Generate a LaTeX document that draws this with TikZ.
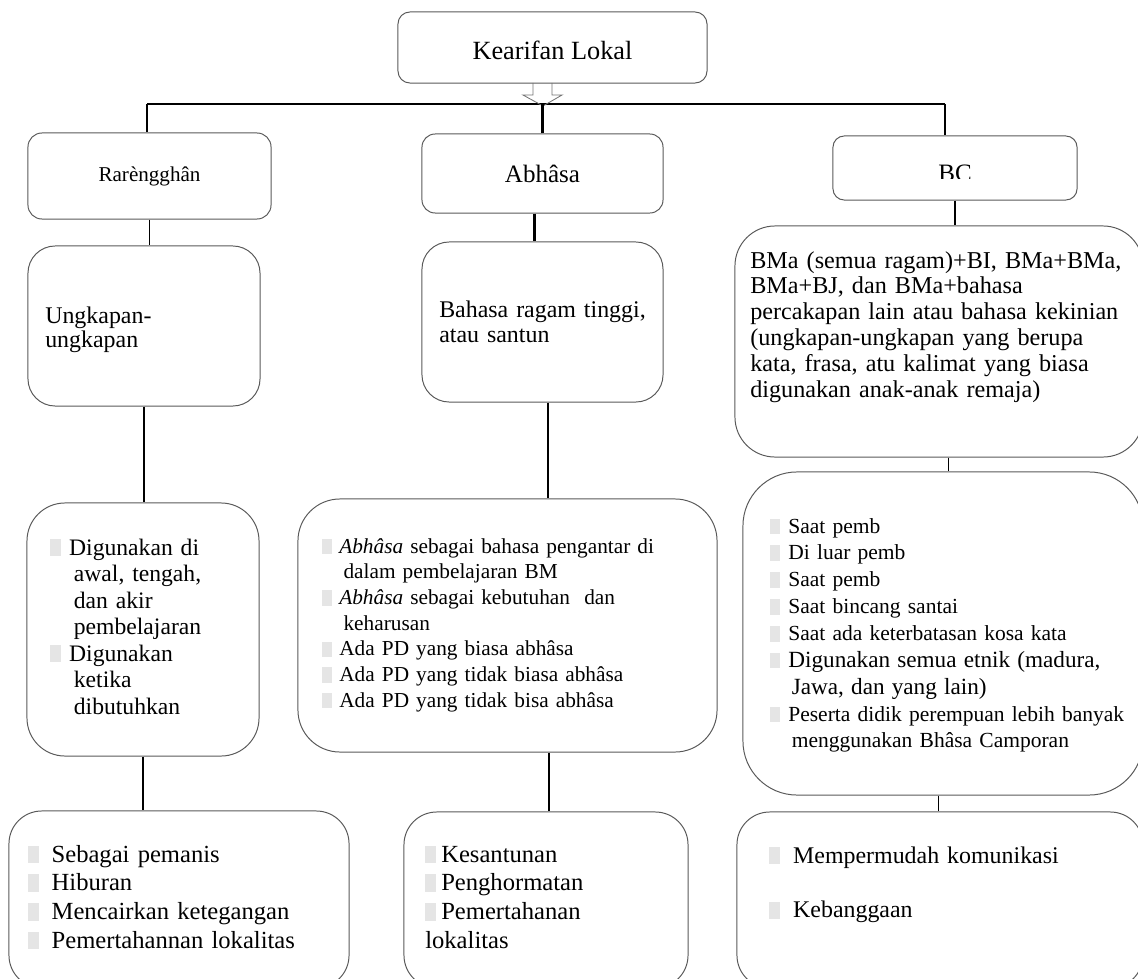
\documentclass[tikz,border=0pt]{standalone}
\usepackage{fontspec}
\setmainfont{Liberation Serif}

\definecolor{boxgray}{gray}{0.35}
\definecolor{bulgray}{gray}{0.9}
\newcommand{\bul}[1][0.8em]{\makebox[#1][l]{\textcolor{bulgray}{\rule[-0.05em]{0.45em}{0.72em}}}}
\newcommand{\itm}[2][0.8em]{\hangindent=1em\hangafter=1\bul[#1]#2\par}
\newcommand{\nl}{\hfil\break}

\tikzset{
  box/.style={draw=boxgray, line width=0.7pt, rounded corners=#1, inner sep=0pt},
  box/.default=0.3cm,
  txt/.style={anchor=base west, inner sep=0pt, align=left, text width=11cm},
  link/.style={draw, line width=1.4pt},
}

\begin{document}
\begin{tikzpicture}[x=0.025cm,y=-0.025cm]
\useasboundingbox (0,0) rectangle (1138,979);
\clip (0,0) rectangle (1138,979);

\node[box, minimum width=7.725cm, minimum height=1.775cm, text height=0.62cm, text depth=0cm, font=\fontsize{18.7}{22}\selectfont] (kl) at (552.5,47.5) {Kearifan Lokal};

\node[box=0.35cm, minimum width=6.075cm, minimum height=2.15cm, font=\fontsize{15}{18}\selectfont] (rar) at (149.5,176) {Rarèngghân};
\node[box=0.33cm, minimum width=6.025cm, minimum height=1.975cm, font=\fontsize{17.8}{21}\selectfont] (abh) at (542.5,173.5) {Abhâsa};
\node[box=0.28cm, minimum width=6.1cm, minimum height=1.6cm] (bc) at (955,168) {};

\node[box=0.68cm, minimum width=5.8cm, minimum height=4cm] (ungk) at (144,326) {};
\node[box=0.68cm, minimum width=6.025cm, minimum height=4cm] (ragam) at (542.5,322) {};
\node[box=1cm, minimum width=10.2cm, minimum height=5.775cm] (bma) at (939,341.5) {};

\node[box=0.95cm, minimum width=5.8cm, minimum height=6.325cm] (gunaR) at (143,629.5) {};
\node[box=1.05cm, minimum width=10.475cm, minimum height=6.325cm] (gunaA) at (507.5,625.5) {};
\node[box=1.35cm, minimum width=10cm, minimum height=8.075cm] (gunaB) at (943,633.5) {};

\node[box=0.82cm, minimum width=8.5cm, minimum height=4.425cm] (fungR) at (179,899.5) {};
\node[box=0.82cm, minimum width=7.1cm, minimum height=4.4cm] (fungA) at (546,900) {};
\node[box=0.82cm, minimum width=10.15cm, minimum height=4.4cm] (fungB) at (940,900) {};

\begin{scope}
\clip (833,136) rectangle (1077,178);
\node[anchor=base, inner sep=0pt, font=\fontsize{17.8}{21}\selectfont] (bct) at (955,181.5) {BC};
\end{scope}

\node[txt, font=\fontsize{17}{17.1}\selectfont] (ungkt) at (45,323) {Ungkapan-\\ungkapan};
\node[txt, font=\fontsize{17}{17.8}\selectfont] (ragamt) at (439,317) {Bahasa ragam tinggi,\\atau santun};
\node[txt, font=\fontsize{17.2}{18.35}\selectfont] (bmat) at (750,268) {BMa (semua ragam)+BI, BMa+BMa,\\BMa+BJ, dan BMa+bahasa\\percakapan lain atau bahasa kekinian\\(ungkapan-ungkapan yang berupa\\kata, frasa, atu kalimat yang biasa\\digunakan anak-anak remaja)};

\node[txt, font=\fontsize{16.8}{18.85}\selectfont] (gunaRt) at (50,555) {%
\itm{Digunakan di\nl awal, tengah,\nl dan akir\nl pembelajaran}%
\itm{Digunakan\nl ketika\nl dibutuhkan}};
\node[txt, font=\fontsize{15.15}{18.3}\selectfont] (gunaAt) at (322,553) {%
\itm{\textit{Abhâsa} sebagai bahasa pengantar di\nl dalam pembelajaran BM}%
\itm{\textit{Abhâsa} sebagai kebutuhan\ \ dan\nl keharusan}%
\itm{Ada PD yang biasa abhâsa}%
\itm{Ada PD yang tidak biasa abhâsa}%
\itm{Ada PD yang tidak bisa abhâsa}};
\node[txt, font=\fontsize{15.3}{19.1}\selectfont] (gunaBt) at (770,533) {%
\itm[0.84em]{Saat pemb}%
\itm[0.84em]{Di luar pemb}%
\itm[0.84em]{Saat pemb}%
\itm[0.84em]{Saat bincang santai}%
\itm[0.84em]{Saat ada keterbatasan kosa kata}%
\itm[0.84em]{{\fontsize{16.5}{19.1}\selectfont Digunakan semua etnik (madura,\nl Jawa, dan yang lain)}}%
\itm[0.84em]{Peserta didik perempuan lebih banyak\nl menggunakan Bhâsa Camporan}};

\node[txt, font=\fontsize{17.5}{20.4}\selectfont] (fungRt) at (28,862) {%
\itm[0.95em]{Sebagai pemanis}%
\itm[0.95em]{Hiburan}%
\itm[0.95em]{Mencairkan ketegangan}%
\itm[0.95em]{Pemertahannan lokalitas}};
\node[txt, font=\fontsize{17.5}{20.4}\selectfont] (fungAt) at (425,862) {%
\itm[0.65em]{Kesantunan}%
\itm[0.65em]{Penghormatan}%
\bul[0.65em]Pemertahanan\nl lokalitas\par};
\node[txt, font=\fontsize{17}{39}\selectfont] (fungBt) at (769,863) {%
\itm[1em]{Mempermudah komunikasi}%
\itm[1em]{Kebanggaan}};

\coordinate (hl) at (147,104);
\coordinate (hr) at (945,104);
\path[draw, line width=1pt] (hl) -- (hr);
\path[draw=black!55, line width=0.6pt] (533,83) -- (533,95) -- (523,95) -- (543,106) -- (562,95) -- (552,95) -- (552,83);
\path[link] (hl) -- (hl |- rar.north);
\path[draw, line width=2pt] (abh.north) -- (abh.north |- hl);
\path[link] (hr) -- (hr |- bc.north);

\path[link] (rar.south) -- (rar.south |- ungk.north);
\path[link] (ungk.south) -- (ungk.south |- gunaR.north);
\path[link] (gunaR.south) -- (gunaR.south |- fungR.north);

\path[draw, line width=2pt] ([xshift=-0.19cm]abh.south) -- ([xshift=-0.19cm]abh.south |- ragam.north);
\path[link] ([xshift=0.14cm]ragam.south) -- ([xshift=0.14cm]ragam.south |- gunaA.north);
\path[link] ([xshift=1.04cm]gunaA.south) -- ([xshift=1.04cm]gunaA.south |- fungA.north);

\path[link] (bc.south) -- (bc.south |- bma.north);
\path[draw, line width=0.9pt] ([xshift=0.24cm]bma.south) -- ([xshift=0.24cm]bma.south |- gunaB.north);
\path[draw, line width=0.9pt] ([xshift=-0.12cm]gunaB.south) -- ([xshift=-0.12cm]gunaB.south |- fungB.north);
\end{tikzpicture}
\end{document}
